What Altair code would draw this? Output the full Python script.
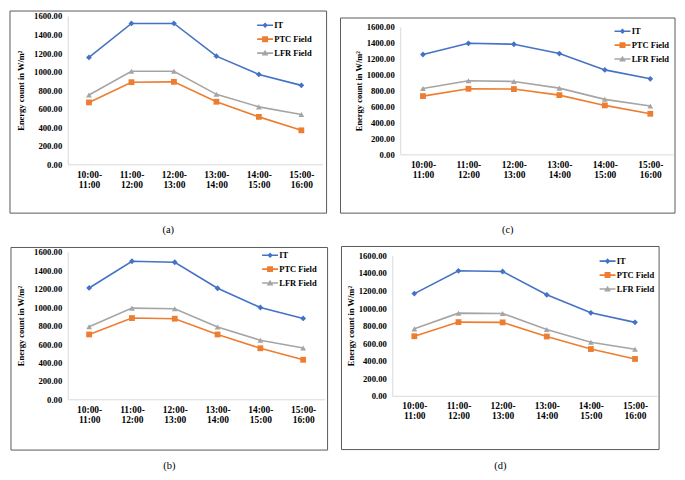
import altair as alt
import pandas as pd

# ---------------- data ----------------
times = ["10:00-11:00", "11:00-12:00", "12:00-13:00",
         "13:00-14:00", "14:00-15:00", "15:00-16:00"]
series = ["IT", "PTC Field", "LFR Field"]
y_ticks = [0, 200, 400, 600, 800, 1000, 1200, 1400, 1600]

a_it = [1153, 1520, 1520, 1167, 970, 852]
a_ptc = [668, 886, 890, 675, 512, 367]
a_lfr = [748, 1004, 1004, 755, 620, 537]

b_it = [1209, 1499, 1488, 1206, 997, 878]
b_ptc = [704, 882, 875, 704, 554, 429]
b_lfr = [788, 990, 983, 784, 641, 557]

c_it = [1254, 1395, 1383, 1266, 1061, 949]
c_ptc = [732, 824, 820, 744, 615, 510]
c_lfr = [828, 924, 916, 832, 691, 607]

d_it = [1165, 1425, 1417, 1151, 946, 837]
d_ptc = [679, 840, 837, 676, 533, 420]
d_lfr = [763, 942, 939, 756, 610, 530]

# ---------------- styles ----------------
colors = ["#4472C4", "#ED7D31", "#A5A5A5"]
point_shapes = ["diamond", "square", "triangle-up"]
bar = "M-2,-0.2H2V0.2H-2Z "
legend_shapes = [
    bar + "M0,-0.7L0.7,0L0,0.7L-0.7,0Z",
    bar + "M-0.75,-0.75H0.75V0.75H-0.75Z",
    bar + "M0,-0.85L0.85,0.6L-0.85,0.6Z",
]
FONT = "Liberation Serif"


def make_panel(it, ptc, lfr, caption, W, H, ytop, frame, leg, title_pad, cap_off):
    rows = []
    for s, vals in zip(series, [it, ptc, lfr]):
        for t, v in zip(times, vals):
            rows.append({"time": t, "series": s, "value": v})
    df = pd.DataFrame(rows)

    x = alt.X("time:N", sort=times,
              scale=alt.Scale(type="point", padding=0.5),
              axis=alt.Axis(title=None, labelAngle=0, ticks=False,
                            domainColor="#d9d9d9", domainWidth=1,
                            labelExpr="[slice(datum.label,0,6), slice(datum.label,6)]",
                            labelFont=FONT, labelFontWeight="bold",
                            labelFontSize=9.5, labelColor="black",
                            labelLineHeight=10, labelPadding=5))
    y = alt.Y("value:Q",
              scale=alt.Scale(domain=[0, 1600], range=[H, ytop], nice=False, zero=True),
              axis=alt.Axis(values=y_ticks, format=".2f", grid=False, ticks=False,
                            domainColor="#d9d9d9", domainWidth=1,
                            title="Energy count in W/m²",
                            titleFont=FONT, titleFontWeight="bold",
                            titleFontSize=8.5, titleColor="black",
                            titlePadding=title_pad,
                            labelFont=FONT, labelFontWeight="bold",
                            labelFontSize=8.7, labelColor="black",
                            labelPadding=6))
    base = alt.Chart(df)

    fl, fr, ft, fb = frame
    border = alt.Chart(alt.Data(values=[{"k": 0}])).mark_rect(
        fillOpacity=0, stroke="#5a5a5a", strokeWidth=1
    ).encode(x=alt.value(-fl), x2=alt.value(W + fr),
             y=alt.value(ft), y2=alt.value(H + fb))

    lines = base.mark_line(strokeWidth=1.6).encode(
        x=x, y=y,
        color=alt.Color("series:N", scale=alt.Scale(domain=series, range=colors), legend=None),
        detail="series:N",
    )
    pts = base.mark_point(filled=True, opacity=1, size=34).encode(
        x=x, y=y,
        color=alt.Color("series:N", scale=alt.Scale(domain=series, range=colors), legend=None),
        shape=alt.Shape("series:N", scale=alt.Scale(domain=series, range=point_shapes), legend=None),
    )
    lg = alt.Legend(title=None, orient="none", legendX=leg[0], legendY=leg[1],
                    labelFont=FONT, labelFontWeight="bold", labelFontSize=8.5,
                    labelColor="black", symbolSize=64, symbolStrokeWidth=0,
                    labelOffset=5, rowPadding=5, padding=0, symbolOpacity=1)
    legend_layer = base.mark_point(filled=True, opacity=1).encode(
        x=x, y=y,
        color=alt.Color("series:N", scale=alt.Scale(domain=series, range=colors), legend=lg),
        shape=alt.Shape("series:N", scale=alt.Scale(domain=series, range=legend_shapes), legend=lg),
    ).transform_filter("false")

    return alt.layer(border, lines, pts, legend_layer).resolve_scale(
        color="independent", shape="independent"
    ).properties(
        width=W, height=H,
        title=alt.TitleParams(text=caption, orient="bottom", anchor="middle",
                              frame="bounds", offset=cap_off, font=FONT,
                              fontSize=10.5, fontWeight="normal", color="black"),
    )


pa = make_panel(a_it, a_ptc, a_lfr, "(a)", 256, 149, 0, (58, 4, -5, 49), (194, 5), 8, 11)
pc = make_panel(c_it, c_ptc, c_lfr, "(c)", 274, 139, 11, (60, 2, 2, 59), (219, 11), 3, 11)
pb = make_panel(b_it, b_ptc, b_lfr, "(b)", 258, 148, 0, (57, 3, -4.5, 51), (199, -1), 8, 11)
pd_ = make_panel(d_it, d_ptc, d_lfr, "(d)", 266, 144.5, 3.5, (51, 2, -5.5, 54), (212, 5), 3, 11)

row1 = alt.hconcat(pa, pc, spacing=12)
row2 = alt.hconcat(pb, pd_, spacing=12)
chart = alt.vconcat(row1, row2, spacing=11).properties(padding=1).configure_view(stroke=None)

chart.save("out.html", embed_options={"renderer": "svg", "actions": False})
